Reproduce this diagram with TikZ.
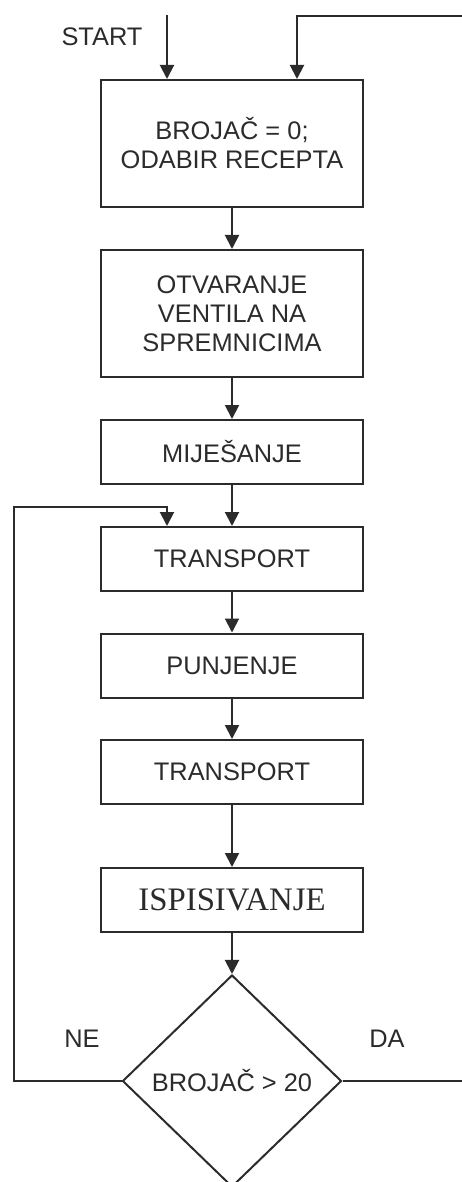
\documentclass[tikz,border=0pt]{standalone}
\usepackage{fontspec}
\setmainfont{Liberation Serif}
\setsansfont{Liberation Sans}
\usetikzlibrary{shapes.geometric,arrows.meta}
\definecolor{ink}{HTML}{2B2B2B}
\tikzset{
  flownode/.style = {align=center, inner sep=0pt, text centered, text=ink, font=\sffamily\fontsize{12.7}{14.5}\selectfont},
  pnode/.style = {flownode, rectangle, draw=ink, line width=1pt, minimum width=131pt, minimum height=63.5pt},
  pshort/.style = {pnode, minimum height=32pt},
  dnode/.style = {flownode, diamond, draw=ink, line width=1pt, minimum width=109.5pt, minimum height=106pt},
  tlabel/.style = {flownode},
  flow/.style = {draw=ink, line width=1pt, -{Triangle[length=7pt,width=7pt]}},
}
\begin{document}
\begin{tikzpicture}[x=0.5pt, y=-0.5pt]
\useasboundingbox (0,0) rectangle (461,1182);
% process steps
\node [pnode] (init) at (232,143.5) {BROJAČ = 0;\\ODABIR RECEPTA};
\node [pnode] (valve) at (232,313.5) {OTVARANJE\\VENTILA NA\\SPREMNICIMA};
\node [pshort] (mix) at (232,452) {MIJEŠANJE};
\node [pshort] (trans1) at (232,559) {TRANSPORT};
\node [pshort] (fill) at (232,665.5) {PUNJENJE};
\node [pshort] (trans2) at (232,772) {TRANSPORT};
\node [pshort, font=\rmfamily\fontsize{16.4}{18}\selectfont] (print) at (232,900) {ISPISIVANJE};
\node [dnode] (check) at (232,1081) {BROJAČ > 20};
% labels
\node [tlabel] (start) at (102,37) {START};
\node [tlabel] (no) at (82,1039) {NE};
\node [tlabel] (yes) at (387,1039) {DA};
% loose ends
\coordinate (in1) at (167,15);
\coordinate (back) at (297,16);
\coordinate (loopR) at (475,16);
\coordinate (loopL) at (14,507);
% connectors
\draw [flow] (in1) -- (init.north -| in1);
\draw [flow] (init) -- (valve);
\draw [flow] (valve) -- (mix);
\draw [flow] (mix) -- (trans1);
\draw [flow] (trans1) -- (fill);
\draw [flow] (fill) -- (trans2);
\draw [flow] (trans2) -- (print);
\draw [flow] (print) -- (check);
\draw [flow] (check.west) -| (loopL) -| (trans1.north -| in1);
\draw [flow] (check.east) -| (loopR) -| (init.north -| back);
\end{tikzpicture}
\end{document}
